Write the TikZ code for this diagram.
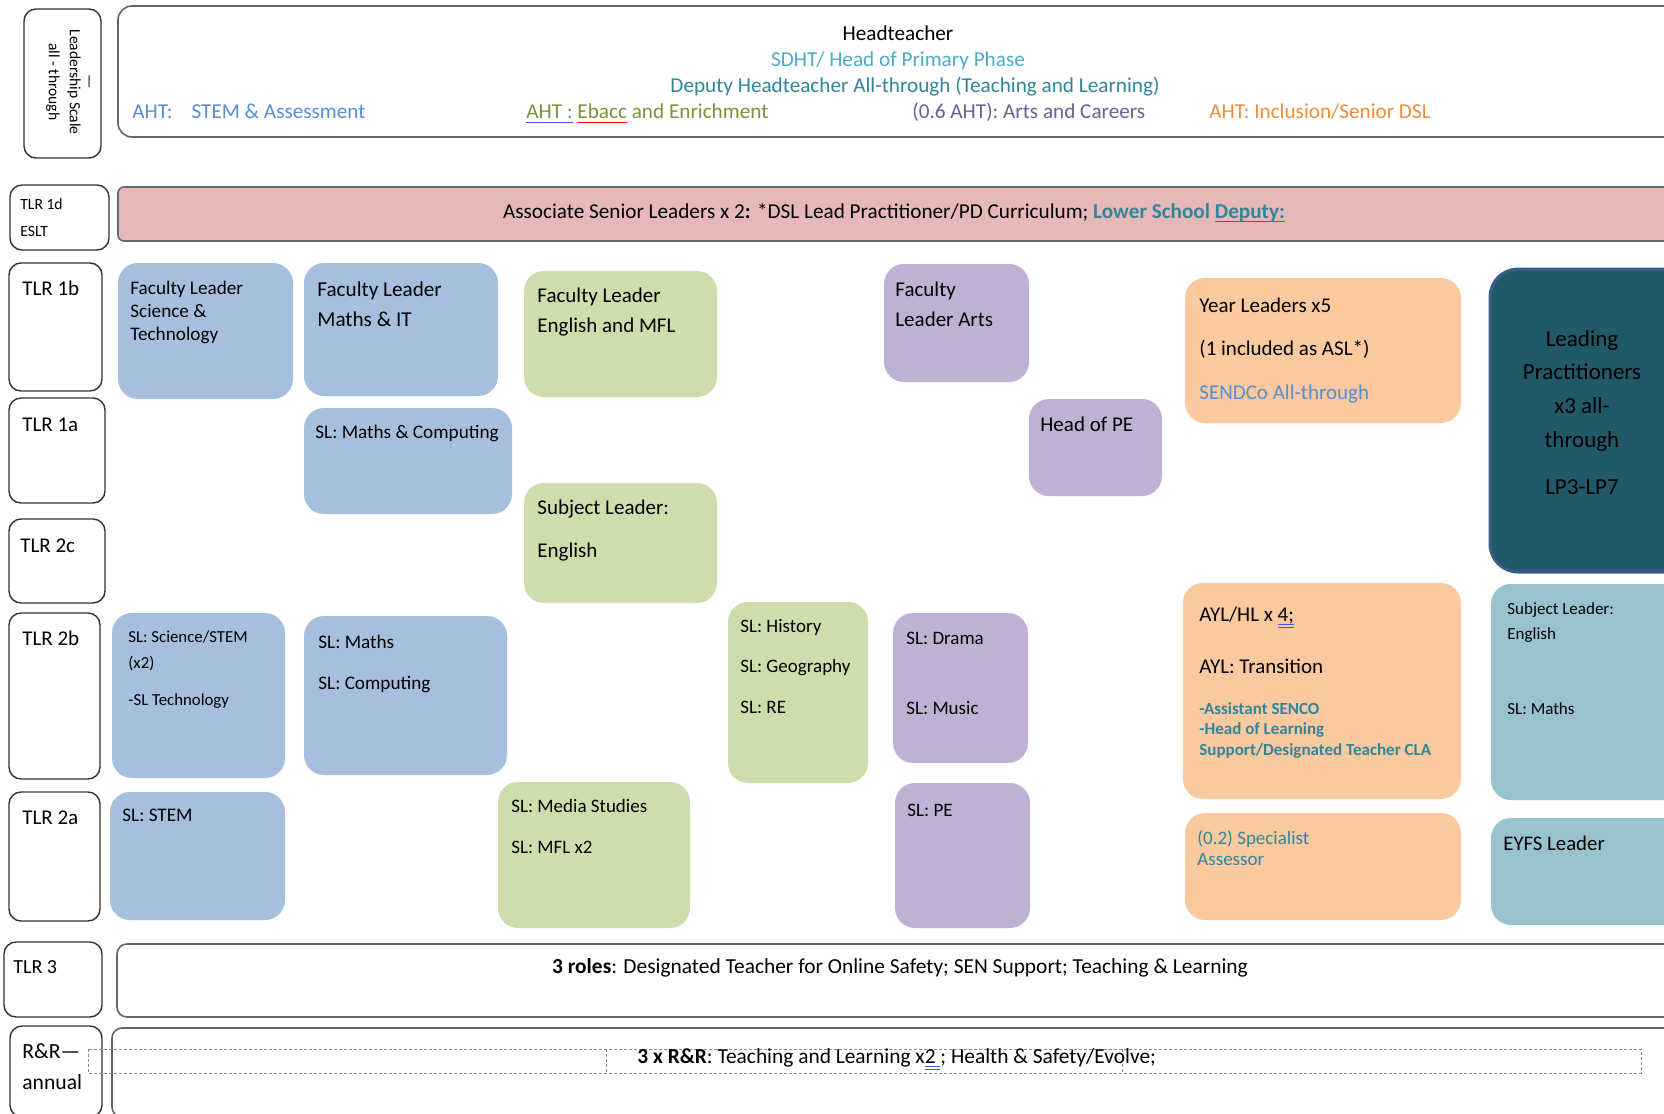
\documentclass[tikz,border=0pt]{standalone}
\usepackage{fontspec}
\setmainfont{Carlito}

\definecolor{boxblue}{RGB}{167,191,222}
\definecolor{boxgreen}{RGB}{206,221,172}
\definecolor{boxpurple}{RGB}{191,177,211}
\definecolor{boxorange}{RGB}{250,201,160}
\definecolor{boxteal}{RGB}{152,194,206}
\definecolor{lpteal}{RGB}{33,89,104}
\definecolor{lpedge}{RGB}{56,93,138}
\definecolor{aslpink}{RGB}{230,184,183}
\definecolor{ahtblue}{RGB}{85,142,213}
\definecolor{ahtgreen}{RGB}{119,147,60}
\definecolor{ahtpurple}{RGB}{115,92,150}
\definecolor{ahtorange}{RGB}{240,140,60}
\definecolor{sdhtteal}{RGB}{75,172,198}
\definecolor{depteal}{RGB}{49,133,155}
\definecolor{ulblue}{RGB}{60,90,220}

% proofing marks as they show in the original
\newcommand\markul[2]{\setbox0\hbox{#2}\rlap{\color{#1}\rule[-2.2pt]{\wd0}{0.6pt}}\box0\relax}
\newcommand\markdbl[2]{\setbox0\hbox{#2}\rlap{\color{#1}\rule[-2pt]{\wd0}{0.5pt}}\rlap{\color{#1}\rule[-3.4pt]{\wd0}{0.5pt}}\box0\relax}

\begin{document}
\begin{tikzpicture}[x=0.5pt, y=-0.5pt,
    tlrbox/.style={draw=black!80, line width=0.7pt, rounded corners=6},
    bandbox/.style={draw=black!60, line width=0.8pt, rounded corners=7},
    dashbox/.style={draw=black!45, line width=0.4pt, dash pattern=on 1.5pt off 1pt},
    rolebox/.style={rounded corners=10},
    txt/.style={anchor=base west, inner sep=0pt, text width=12cm, align=flush left},
    ctxt/.style={anchor=base, inner sep=0pt, text width=16cm, align=flush center},
    sz/.style 2 args={font=\fontsize{#1}{#2}\selectfont}
  ]
  \useasboundingbox (0,0) rectangle (1664,1113);
  \clip (0,0) rectangle (1664,1113);
  \fill[white] (0,0) rectangle (1664,1113);

  % Leadership
  \draw[tlrbox] (24,9) rectangle (101,158);
  \node[inner sep=0pt, rotate=-90, align=center, sz={7.8}{10.5}] (lsname) at (68,82)
    {\textemdash\\[-3pt]Leadership Scale\\all - through};
  \draw[bandbox] (118,6) rectangle (1720,137);
  \node[ctxt, sz={10.6}{13}] (head) at (898,41) {Headteacher};
  \node[ctxt, sz={10.6}{13}, text=sdhtteal] (sdht) at (898,67) {SDHT/ Head of Primary Phase};
  \node[ctxt, sz={10.6}{13}, text=depteal] (dht) at (915,93) {Deputy Headteacher All-through (Teaching and Learning)};
  \node[txt, sz={10.6}{13}, text=ahtblue] (ahtstem) at (132,119) {AHT:\hspace{0.9em}STEM \& Assessment};
  \node[txt, sz={10.6}{13}, text=ahtgreen] (ahtebacc) at (526,119) {\markul{ulblue}{AHT :} \markul{red}{Ebacc} and Enrichment};
  \node[txt, sz={10.6}{13}, text=ahtpurple] (ahtarts) at (912,119) {(0.6 AHT): Arts and Careers};
  \node[txt, sz={10.6}{13}, text=ahtorange] (ahtincl) at (1209,119) {AHT: Inclusion/Senior DSL};

  % ESLT
  \draw[tlrbox] (10,185) rectangle (109,250);
  \node[txt, sz={7.8}{13.5}] (tlr1d) at (20,209) {TLR 1d\\ESLT};
  \draw[bandbox, fill=aslpink, rounded corners=3] (118,187) rectangle (1720,241);
  \node[ctxt, sz={10.6}{12}] (asl) at (894,218)
    {Associate Senior Leaders x 2\textbf{:} *DSL Lead Practitioner/PD Curriculum; \textbf{\color{depteal}Lower School \markul{ulblue}{Deputy:}}};

  % TLR rows
  \draw[tlrbox] (9,263) rectangle (102,391);
  \node[txt, sz={10.5}{13}] (tlr1b) at (22,295) {TLR 1b};
  \draw[tlrbox] (9,398) rectangle (105,503);
  \node[txt, sz={10.5}{13}] (tlr1a) at (22,431) {TLR 1a};
  \draw[tlrbox] (9,519) rectangle (105,603);
  \node[txt, sz={10.5}{13}] (tlr2c) at (20,552) {TLR 2c};
  \draw[tlrbox] (9,613) rectangle (100,779);
  \node[txt, sz={10.5}{13}] (tlr2b) at (22,645) {TLR 2b};
  \draw[tlrbox] (9,792) rectangle (100,921);
  \node[txt, sz={10.5}{13}] (tlr2a) at (22,824) {TLR 2a};

  % Science and Maths
  \fill[rolebox, boxblue] (118,263) rectangle (293,399);
  \node[txt, sz={9.6}{11.5}] (flsci) at (130,294) {Faculty Leader\\Science \&\\Technology};
  \fill[rolebox, boxblue] (304,263) rectangle (498,396);
  \node[txt, sz={10.6}{15}] (flmaths) at (317,296) {Faculty Leader\\Maths \& IT};
  \fill[rolebox, boxblue] (304,408) rectangle (512,514);
  \node[txt, sz={9.6}{12}] (slmathscomp) at (315,438) {SL: Maths \& Computing};
  \fill[rolebox, boxblue] (112,613) rectangle (285,778);
  \node[txt, sz={8.4}{13}] (slsci) at (128,642) {SL: Science/STEM\\(x2)\\[5.5pt]-SL Technology};
  \fill[rolebox, boxblue] (304,616) rectangle (507,775);
  \node[txt, sz={9.6}{20.5}] (slmaths) at (318,648) {SL: Maths\\SL: Computing};
  \fill[rolebox, boxblue] (110,792) rectangle (285,920);
  \node[txt, sz={9.6}{12}] (slstem) at (122,821) {SL: STEM};

  % English and Humanities
  \fill[rolebox, boxgreen] (524,271) rectangle (717,397);
  \node[txt, sz={10.5}{15}] (flenglish) at (537,302) {Faculty Leader\\English and MFL};
  \fill[rolebox, boxgreen] (524,483) rectangle (717,603);
  \node[txt, sz={10.5}{21.5}] (slenglish) at (537,514) {Subject Leader:\\English};
  \fill[rolebox, boxgreen] (728,602) rectangle (868,783);
  \node[txt, sz={9.5}{20.25}] (slhist) at (740,632) {SL: History\\SL: Geography\\SL: RE};
  \fill[rolebox, boxgreen] (498,782) rectangle (690,928);
  \node[txt, sz={9.5}{20.5}] (slmedia) at (511,812) {SL: Media Studies\\SL: MFL x2};

  % Arts and PE
  \fill[rolebox, boxpurple] (884,264) rectangle (1029,382);
  \node[txt, sz={10.5}{15}] (flarts) at (895,296) {Faculty\\Leader Arts};
  \fill[rolebox, boxpurple] (1029,399) rectangle (1162,496);
  \node[txt, sz={10.5}{13}] (headpe) at (1040,431) {Head of PE};
  \fill[rolebox, boxpurple] (893,613) rectangle (1028,763);
  \node[txt, sz={9.5}{20}] (sldrama) at (906,644) {SL: Drama\\[15pt]SL: Music};
  \fill[rolebox, boxpurple] (895,783) rectangle (1030,928);
  \node[txt, sz={9.5}{12}] (slpe) at (907,816) {SL: PE};

  % Pastoral
  \fill[rolebox, boxorange] (1185,278) rectangle (1461,423);
  \node[txt, sz={10.5}{21.75}] (yearldr) at (1199,312)
    {Year Leaders x5\\(1 included as ASL*)\\{\color{ahtblue}SENDCo All-through}};
  \fill[rolebox, boxorange] (1183,583) rectangle (1461,799);
  \node[txt, sz={10.5}{26}] (ayl) at (1199,621) {AYL/HL x \markdbl{ulblue}{4;}\\AYL: Transition};
  \node[txt, sz={8.5}{10.4}, text=depteal] (aylsub) at (1199,714)
    {\bfseries -Assistant SENCO\\-Head of Learning\\Support/Designated Teacher CLA};
  \fill[rolebox, boxorange] (1185,813) rectangle (1461,920);
  \node[txt, sz={9.5}{10.5}, text=depteal] (specialist) at (1197,844) {(0.2) Specialist\\Assessor};

  % Primary and practitioners
  \draw[rolebox, fill=lpteal, draw=lpedge, line width=1.5pt, rounded corners=14] (1490,269) rectangle (1720,572);
  \node[ctxt, sz={11.5}{16.85}, text width=4cm] (leadprac) at (1582,346) {Leading\\Practitioners\\x3 all-\\through\\[6.6pt]LP3-LP7};
  \fill[rolebox, boxteal] (1491,584) rectangle (1720,800);
  \node[txt, sz={8.5}{12.5}] (slengright) at (1507,614) {Subject Leader:\\English\\[25pt]SL: Maths};
  \fill[rolebox, boxteal] (1491,818) rectangle (1720,925);
  \node[txt, sz={10.4}{13}] (eyfs) at (1503,850) {EYFS Leader};

  % TLR 3
  \draw[tlrbox] (4,942) rectangle (102,1017);
  \node[txt, sz={10}{13}] (tlr3) at (13,973) {TLR 3};
  \draw[bandbox, rounded corners=5] (117,944) rectangle (1720,1017);
  \node[ctxt, sz={10.7}{12}] (roles) at (900,973)
    {\textbf{3 roles}: Designated Teacher for Online Safety; SEN Support; Teaching \& Learning};

  % R&R
  \draw[tlrbox] (10,1026) rectangle (102,1117);
  \node[txt, sz={10.8}{15.5}] (rrlabel) at (22,1058) {R\&R\textemdash\\annual};
  \draw[bandbox, rounded corners=5] (112,1028) rectangle (1720,1117);
  \draw[dashbox] (88,1049) rectangle (1641,1073);
  \draw[dashbox] (606,1049) -- (606,1073) (1122,1049) -- (1122,1073);
  \node[txt, sz={10.7}{12}] (rr) at (637,1063)
    {\textbf{3 x R\&R}: Teaching and Learning x\markdbl{ulblue}{2 }; Health \& Safety/Evolve;};
\end{tikzpicture}
\end{document}
